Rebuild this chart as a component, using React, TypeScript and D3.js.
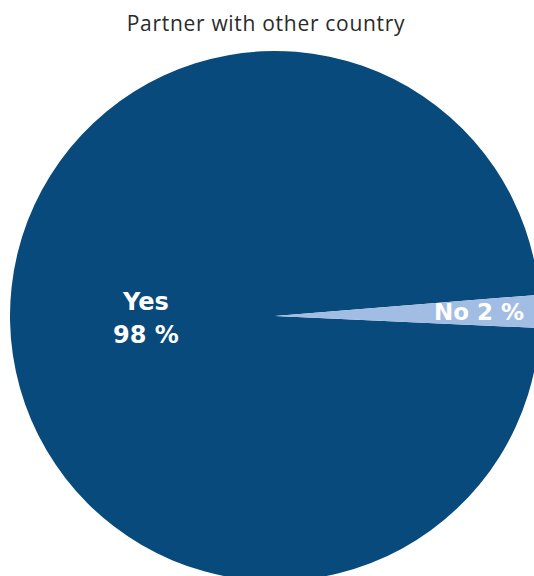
import React from "react";
import * as d3 from "d3";

const categories = ["Yes", "No"];
const values = [98, 2];
const labelTexts = [["Yes", "98 %"], ["No 2 %"]];
const title = "Partner with other country";

const W = 534;
const H = 576;
const cx = 275;
const cy = 316;
const R = 265;
const colors = ["#074a7b", "#a2bde4"];

export default function App() {
  const data = categories.map((c, i) => ({ cat: c, value: values[i], i }));
  const start = (92.6 * Math.PI) / 180;
  const pie = d3
    .pie<any>()
    .sort(null)
    .value((d: any) => d.value)
    .startAngle(start)
    .endAngle(start + 2 * Math.PI);
  const arcs = pie(data);
  const arc = d3.arc<any>().innerRadius(0).outerRadius(R);
  const labelArcYes = d3.arc<any>().innerRadius(R * 0.487).outerRadius(R * 0.487);
  const labelArcNo = d3.arc<any>().innerRadius(R * 0.77).outerRadius(R * 0.77);

  return (
    <svg
      width={W}
      height={H}
      style={{ position: "absolute", left: 0, top: 0 }}
      xmlns="http://www.w3.org/2000/svg"
    >
      <rect width={W} height={H} fill="#ffffff" />
      <text
        x={266}
        y={31}
        textAnchor="middle"
        fontFamily="'Open Sans', Lato, sans-serif"
        fontSize={21}
        letterSpacing={0.7}
        fill="#2a2a2a"
      >
        {title}
      </text>
      <g transform={`translate(${cx},${cy})`}>
        {arcs.map((a, i) => (
          <path key={i} d={arc(a) as string} fill={colors[i]} />
        ))}
        {arcs.map((a, i) => {
          const [x, y] = (i === 0 ? labelArcYes : labelArcNo).centroid(a);
          const lines = labelTexts[i];
          const lh = 33;
          return (
            <text
              key={"l" + i}
              x={x}
              y={y}
              textAnchor="middle"
              fontFamily="'DejaVu Sans', sans-serif"
              fontWeight="bold"
              fontSize={i === 0 ? 24 : 23}
              fill="#ffffff"
            >
              {lines.map((t, j) => (
                <tspan
                  key={j}
                  x={x}
                  y={y + (j - (lines.length - 1) / 2) * lh + 8}
                >
                  {t}
                </tspan>
              ))}
            </text>
          );
        })}
      </g>
    </svg>
  );
}
